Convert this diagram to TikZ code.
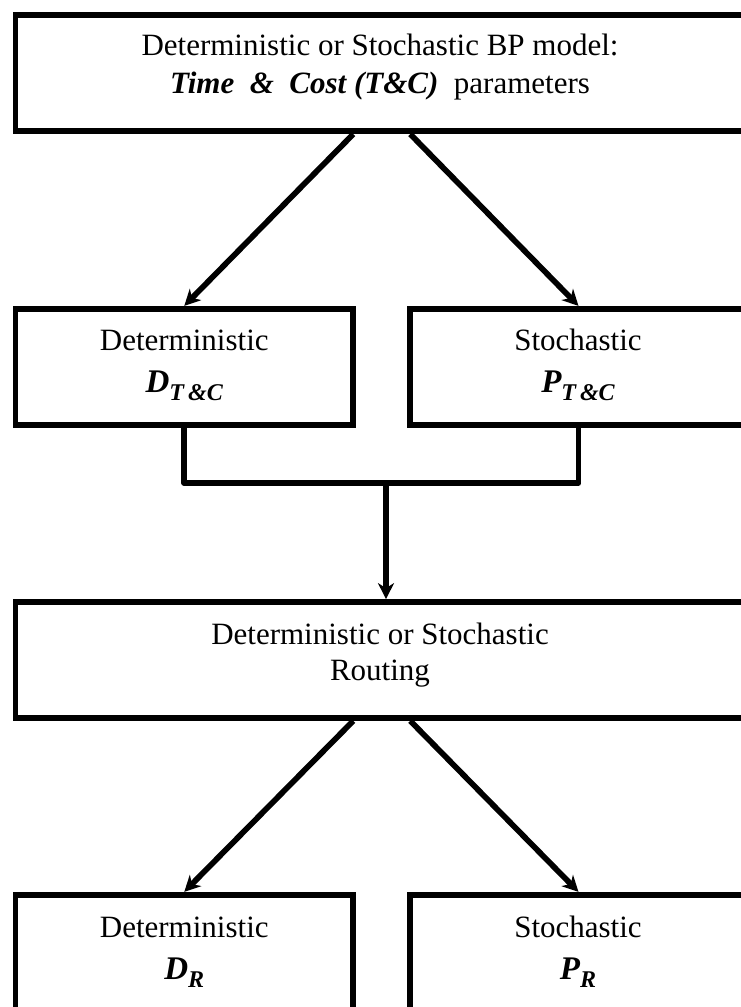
\documentclass[tikz,border=0pt]{standalone}
\usepackage{fontspec}
\setmainfont{Liberation Serif}
\usetikzlibrary{arrows.meta}
\begin{document}
\begin{tikzpicture}[x=1pt,y=-1pt,
  box/.style={draw, line width=5.7pt, inner sep=0pt, minimum width=#1, minimum height=116pt},
  lbl/.style={inner sep=0pt, anchor=base, font=\fontsize{31}{37}\selectfont},
  wire/.style={line width=5.7pt, line join=round},
  arr/.style={wire, -{Stealth[length=16pt,width=16pt,inset=5pt]}}
]
% page frame and clipping
\fill[white] (0,0) rectangle (741,1007);
\useasboundingbox (0,0) rectangle (741,1007);
\clip (0,0) rectangle (741,1007);

% symbols used inside the boxes
\newcommand{\bsym}[2]{{\fontsize{33}{33}\selectfont\bfseries\itshape #1}\raisebox{-8pt}{\fontsize{24}{24}\selectfont\bfseries\itshape #2}}

% boxes
\node[box=729.5pt] (top)   at (380.25,73.25)  {};
\node[box=337.5pt] (dtc)   at (184.25,366.75) {};
\node[box=337pt]   (ptc)   at (578.5,366.75)  {};
\node[box=729.5pt] (route) at (380.25,660)    {};
\node[box=337.5pt] (dr)    at (184.25,952.75) {};
\node[box=337pt]   (pr)    at (578.5,952.75)  {};

% labels
\node[lbl] (t1) at (380,55) {Deterministic or Stochastic BP model:};
\node[lbl] (t2) at (380,93) {\textbf{\textit{Time\ \ \&\ \ Cost (T\&C)}}\ \ parameters};
\node[lbl] (d1) at (184.25,350) {Deterministic};
\node[lbl] (d2) at (184.25,392) {\bsym{D}{T\,\&C}};
\node[lbl] (p1) at (578,350) {Stochastic};
\node[lbl] (p2) at (578,392) {\bsym{P}{T\,\&C}};
\node[lbl] (r1) at (380,644) {Deterministic or Stochastic};
\node[lbl] (r2) at (380,680) {Routing};
\node[lbl] (dr1) at (184.25,937) {Deterministic};
\node[lbl] (dr2) at (184.25,979) {\bsym{D}{R}};
\node[lbl] (pr1) at (578,937) {Stochastic};
\node[lbl] (pr2) at (578,979) {\bsym{P}{R}};

% branching arrows
\draw[arr] ([xshift=-27pt]top.south) -- (dtc.north);
\draw[arr] ([xshift=30pt]top.south) -- (ptc.north);
\draw[arr] ([xshift=-27pt]route.south) -- (dr.north);
\draw[arr] ([xshift=30pt]route.south) -- (pr.north);

% merging connector
\coordinate (j) at (386,483);
\draw[wire] (dtc.south) -- (dtc.south |- j) -| (ptc.south);
\draw[arr] (j) -- (j |- route.north);
\end{tikzpicture}
\end{document}
